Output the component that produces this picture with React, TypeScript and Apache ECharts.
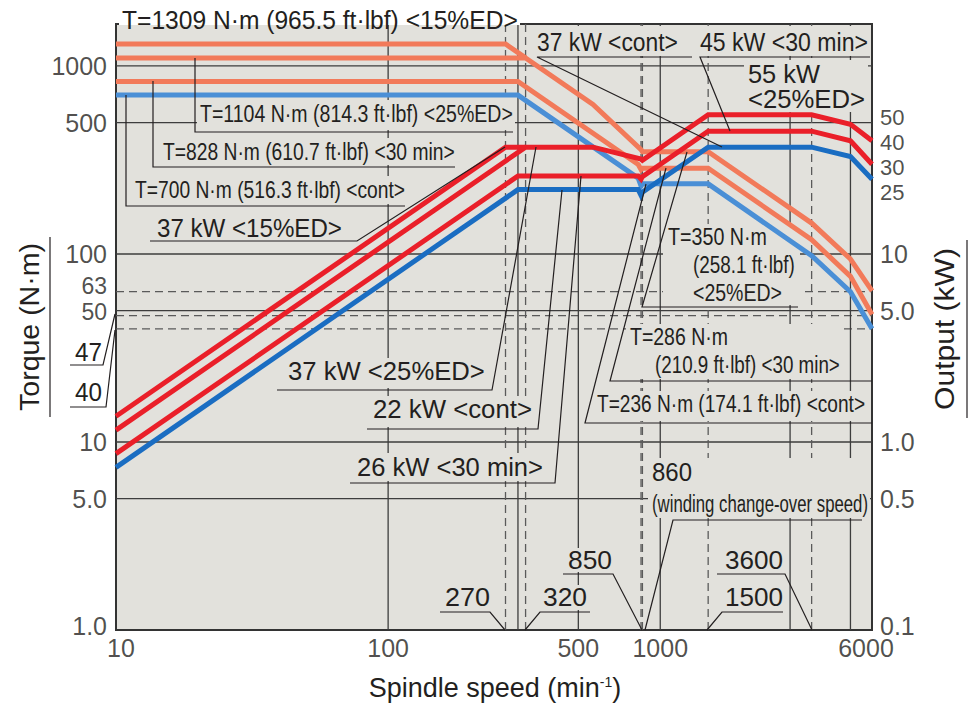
import React, { useEffect, useRef } from 'react';
import * as echarts from 'echarts';

// ---------- data ----------
// Torque curves (N·m) : [speed min-1, torque]
const torque15ED = [[10, 1309], [270, 1309], [320, 1104]];
const torque25ED = [[10, 1104], [320, 1104], [566, 624], [850, 359], [860, 350], [1500, 350], [3600, 146], [5000, 94], [6000, 63.7]];
const torque30min = [[10, 828], [300, 828], [830, 299], [850, 281], [860, 286], [1500, 286], [3600, 119], [5000, 76], [6000, 47.7]];
const torqueCont = [[10, 700], [300, 700], [830, 253], [850, 230], [860, 236], [1500, 236], [3600, 98], [5000, 63], [6000, 40]];

// Output curves (kW) : [speed min-1, output]
const power15ED = [[10, 1.371], [270, 37], [320, 37]];
const power25ED = [[10, 1.156], [320, 37], [566, 37], [850, 32], [860, 31.5], [1500, 55], [3600, 55], [5000, 49], [6000, 40]];
const power30min = [[10, 0.867], [300, 26], [830, 26], [850, 25], [860, 25.8], [1500, 45], [3600, 45], [5000, 40], [6000, 30]];
const powerCont = [[10, 0.733], [300, 22], [830, 22], [850, 20.5], [860, 21.3], [1500, 37], [3600, 37], [5000, 33], [6000, 25]];

// reference lines
const hGridSolid = [1000, 500, 100, 50, 10, 5];
const hGridDashed = [63, 47, 40];
const vGridSolid = [100, 300, 500, 1000, 3000, 5000];
const vGridDashed = [270, 320, 850, 860, 1500, 3600];

// tick labels
const xTicks = [10, 100, 500, 1000, 6000];
const xTickLabels = ['10', '100', '500', '1000', '6000'];
const leftTicks = [1000, 500, 100, 63, 50, 10, 5, 1];
const leftTickLabels = ['1000', '500', '100', '63', '50', '10', '5.0', '1.0'];
const rightTicks = [50, 40, 30, 25, 10, 5, 1, 0.5, 0.1];
const rightTickLabels = ['50', '40', '30', '25', '10', '5.0', '1.0', '0.5', '0.1'];

const X_MIN = 10, X_MAX = 6000, Y_MIN = 1, Y_MAX = 1672;

// ---------- style ----------
const FONT = '"Liberation Sans", Arial, Helvetica, sans-serif';
const INK = '#231f20';
const BG = '#e2e1dc';
const SALMON = '#f27a5a';
const LBLUE = '#4a8fd6';
const RED = '#ea1f29';
const DBLUE = '#1a6dc2';

let mctx: CanvasRenderingContext2D | null = null;
function measure(t: string, fs: number) {
  if (!mctx) mctx = document.createElement('canvas').getContext('2d');
  if (!mctx) return t.length * fs * 0.5;
  mctx.font = `${fs}px ${FONT}`;
  return mctx.measureText(t).width;
}

function textEl(t: string, x0: number, x1: number, cy: number, fs: number) {
  const w = measure(t, fs);
  return {
    type: 'text', x: x0, y: cy, scaleX: (x1 - x0) / w, z: 6, silent: true,
    style: { text: t, fill: INK, fontSize: fs, fontFamily: FONT, align: 'left', verticalAlign: 'middle', textAlign: 'left', textVerticalAlign: 'middle' },
  };
}

const labels: [string, number, number, number, number][] = [
  ['T=1309 N·m (965.5 ft·lbf) <15%ED>', 122, 518, 20, 25],
  ['T=1104 N·m (814.3 ft·lbf) <25%ED>', 200, 513, 114, 24],
  ['T=828 N·m (610.7 ft·lbf) <30 min>', 163, 455, 152, 24],
  ['T=700 N·m (516.3 ft·lbf) <cont>', 135, 405, 190, 24],
  ['37 kW <15%ED>', 157, 342, 228, 25],
  ['37 kW <25%ED>', 288, 485, 371, 25],
  ['22 kW <cont>', 373, 532, 409, 25],
  ['26 kW <30 min>', 357, 543, 467, 25],
  ['37 kW <cont>', 537, 678, 42, 25],
  ['45 kW <30 min>', 700, 868, 42, 25],
  ['55 kW', 748, 820, 74, 25],
  ['<25%ED>', 748, 865, 99, 25],
  ['T=350 N·m', 668, 767, 237, 24],
  ['(258.1 ft·lbf)', 693, 795, 265, 24],
  ['<25%ED>', 693, 782, 293, 24],
  ['T=286 N·m', 630, 728, 337, 24],
  ['(210.9 ft·lbf) <30 min>', 655, 840, 365, 24],
  ['T=236 N·m (174.1 ft·lbf) <cont>', 597, 865, 404, 24],
  ['860', 652, 692, 472, 25],
  ['(winding change-over speed)', 652, 868, 503, 24],
  ['850', 568, 612, 560, 25],
  ['270', 445, 490, 597, 25],
  ['320', 543, 587, 597, 25],
  ['3600', 725, 783, 560, 25],
  ['1500', 725, 783, 597, 25],
  ['47', 75, 102, 352, 25],
  ['40', 75, 102, 392, 25],
];

const bgRects: [number, number, number, number][] = [
  [197, 100, 318, 30], [158, 138, 300, 27], [129, 176, 278, 28], [152, 215, 195, 25],
  [283, 358, 205, 30], [368, 396, 168, 31], [352, 453, 196, 28],
  [534, 26, 162, 30], [697, 26, 173, 30], [744, 60, 124, 52],
  [663, 224, 137, 81], [626, 324, 218, 55], [592, 391, 277, 30], [648, 458, 222, 60],
  [564, 548, 52, 24], [441, 585, 52, 25], [539, 585, 52, 25], [721, 548, 66, 24], [721, 585, 66, 25],
];

const leaders: number[][][] = [
  [[195, 58], [195, 132], [513, 132]],
  [[153, 81], [153, 167], [455, 167]],
  [[126, 95], [126, 206], [405, 206]],
  [[150, 241], [357, 241], [505, 147]],
  [[277, 390], [492, 390], [536, 147]],
  [[367, 429], [538, 429], [562, 190]],
  [[350, 483], [555, 483], [581, 176]],
  [[692, 57], [537, 57], [722, 147]],
  [[870, 57], [700, 57], [730, 131]],
  [[798, 307], [642, 307], [687, 152]],
  [[872, 381], [610, 381], [666, 168]],
  [[872, 423], [585, 423], [646, 184]],
  [[862, 520], [673, 520], [645, 630]],
  [[563, 574], [613, 574], [642, 630]],
  [[440, 612], [490, 612], [505, 630]],
  [[590, 612], [540, 612], [525, 630]],
  [[717, 574], [785, 574], [812, 630]],
  [[783, 612], [722, 612], [707, 630]],
  [[70, 365], [103, 365], [115, 314]],
  [[70, 407], [106, 407], [115, 330]],
  [[50, 237], [50, 417]],
  [[967, 240], [967, 418]],
];

function curve(data: number[][], color: string, yIdx: number) {
  return {
    type: 'line', data, xAxisIndex: 0, yAxisIndex: yIdx, symbol: 'none', silent: true, z: 3,
    lineStyle: { color, width: 5, join: 'miter', cap: 'butt' },
  };
}

function gridLine(data: number[][], dashed: boolean) {
  return {
    type: 'line', data, symbol: 'none', silent: true, z: 1,
    lineStyle: { color: dashed ? '#5a5a5a' : '#3d3d3d', width: 1.3, type: dashed ? [8, 5] : 'solid' },
  };
}

// closely stacked tick labels are slightly shrunk and spread apart so they do not collide
const leftNudge: Record<string, number> = { '63': -5.7, '50': 1.4, '1.0': -4 };
const leftSize: Record<string, number> = { '63': 23, '50': 23 };
const rightNudge: Record<string, number> = { '50': -4.6, '40': 2.2, '30': 3.7, '25': 13.8, '0.1': -4 };
const rightSize: Record<string, number> = { '50': 22, '40': 22, '30': 22, '25': 22 };
const bottomNudge: Record<string, number> = { '10': 5, '6000': -6 };

export default function App() {
  const ref = useRef<HTMLDivElement>(null);
  useEffect(() => {
    if (!ref.current) return;
    const chart = echarts.init(ref.current, undefined, { renderer: 'svg' });

    const graphic: any[] = [];
    graphic.push({ type: 'rect', shape: { x: 119, y: 14, width: 401, height: 11 }, style: { fill: '#ffffff' }, z: 5, silent: true });
    bgRects.forEach(([x, y, w, h]) => graphic.push({ type: 'rect', shape: { x, y, width: w, height: h }, style: { fill: BG }, z: 2, silent: true }));
    leaders.forEach((pts) => graphic.push({ type: 'polyline', shape: { points: pts }, style: { stroke: INK, lineWidth: 1.2, fill: null }, z: 4, silent: true }));
    labels.forEach(([t, x0, x1, cy, fs]) => graphic.push(textEl(t, x0, x1, cy, fs)));

    const tq = 'Torque (N·m)';
    graphic.push({
      type: 'text', x: 30, y: 327, rotation: Math.PI / 2, scaleX: 168 / measure(tq, 27), z: 6, silent: true,
      style: { text: tq, fill: INK, fontSize: 27, fontFamily: FONT, align: 'center', verticalAlign: 'middle', textAlign: 'center', textVerticalAlign: 'middle' },
    });
    const op = 'Output (kW)';
    graphic.push({
      type: 'text', x: 944, y: 329, rotation: Math.PI / 2, scaleX: 162 / measure(op, 28), z: 6, silent: true,
      style: { text: op, fill: INK, fontSize: 28, fontFamily: FONT, align: 'center', verticalAlign: 'middle', textAlign: 'center', textVerticalAlign: 'middle' },
    });
    graphic.push({
      type: 'text', x: 495, y: 688, z: 6, silent: true,
      style: {
        text: 'Spindle speed (min{s|-1})', fill: INK, fontSize: 27, fontFamily: FONT,
        align: 'center', verticalAlign: 'middle', textAlign: 'center', textVerticalAlign: 'middle',
        rich: { s: { fontSize: 14, fontFamily: FONT, fill: INK, padding: [0, 0, 12, 0] } },
      },
    });

    const series: any[] = [];
    hGridSolid.forEach((v) => series.push(gridLine([[X_MIN, v], [X_MAX, v]], false)));
    hGridDashed.forEach((v) => series.push(gridLine([[X_MIN, v], [X_MAX, v]], true)));
    vGridSolid.forEach((v) => series.push(gridLine([[v, Y_MIN], [v, Y_MAX]], false)));
    vGridDashed.forEach((v) => series.push(gridLine([[v, Y_MIN], [v, Y_MAX]], true)));

    series.push(curve(torque15ED, SALMON, 0));
    series.push(curve(torque25ED, SALMON, 0));
    series.push(curve(torque30min, SALMON, 0));
    series.push(curve(torqueCont, LBLUE, 0));
    series.push(curve(power15ED, RED, 1));
    series.push(curve(power25ED, RED, 1));
    series.push(curve(power30min, RED, 1));
    series.push(curve(powerCont, DBLUE, 1));

    const lbl = { show: true, color: INK, fontSize: 25, fontFamily: FONT };
    series.push({
      type: 'scatter', xAxisIndex: 0, yAxisIndex: 0, symbolSize: 0, silent: true, clip: false, z: 6,
      data: leftTicks.map((v, i) => {
        const s = leftTickLabels[i];
        return {
          value: [X_MIN, v],
          label: { ...lbl, position: 'left', distance: 9, formatter: s, offset: [0, leftNudge[s] || 0], fontSize: leftSize[s] || 25 },
        };
      }),
    });
    series.push({
      type: 'scatter', xAxisIndex: 0, yAxisIndex: 1, symbolSize: 0, silent: true, clip: false, z: 6,
      data: rightTicks.map((v, i) => {
        const s = rightTickLabels[i];
        return {
          value: [X_MAX, v],
          label: { ...lbl, position: 'right', distance: 8, formatter: s, offset: [0, rightNudge[s] || 0], fontSize: rightSize[s] || 25 },
        };
      }),
    });
    series.push({
      type: 'scatter', xAxisIndex: 0, yAxisIndex: 0, symbolSize: 0, silent: true, clip: false, z: 6,
      data: xTicks.map((v, i) => ({
        value: [v, Y_MIN],
        label: { ...lbl, position: 'bottom', distance: 5, formatter: xTickLabels[i], offset: [bottomNudge[xTickLabels[i]] || 0, 0] },
      })),
    });

    const hidden = { axisLine: { show: false }, axisTick: { show: false }, axisLabel: { show: false }, splitLine: { show: false } };
    chart.setOption({
      animation: false,
      backgroundColor: '#ffffff',
      grid: {
        left: 116, top: 24, width: 756, height: 606, containLabel: false, outerBoundsMode: 'none',
        show: true, backgroundColor: BG, borderColor: '#333333', borderWidth: 2,
      },
      xAxis: { type: 'log', logBase: 10, min: X_MIN, max: X_MAX, ...hidden },
      yAxis: [
        { type: 'log', logBase: 10, min: Y_MIN, max: Y_MAX, ...hidden },
        { type: 'log', logBase: 10, min: Y_MIN / 10, max: Y_MAX / 10, ...hidden },
      ],
      series,
      graphic,
    });
    return () => chart.dispose();
  }, []);
  return <div ref={ref} style={{ position: 'fixed', left: 0, top: 0, width: 975, height: 709 }} />;
}
